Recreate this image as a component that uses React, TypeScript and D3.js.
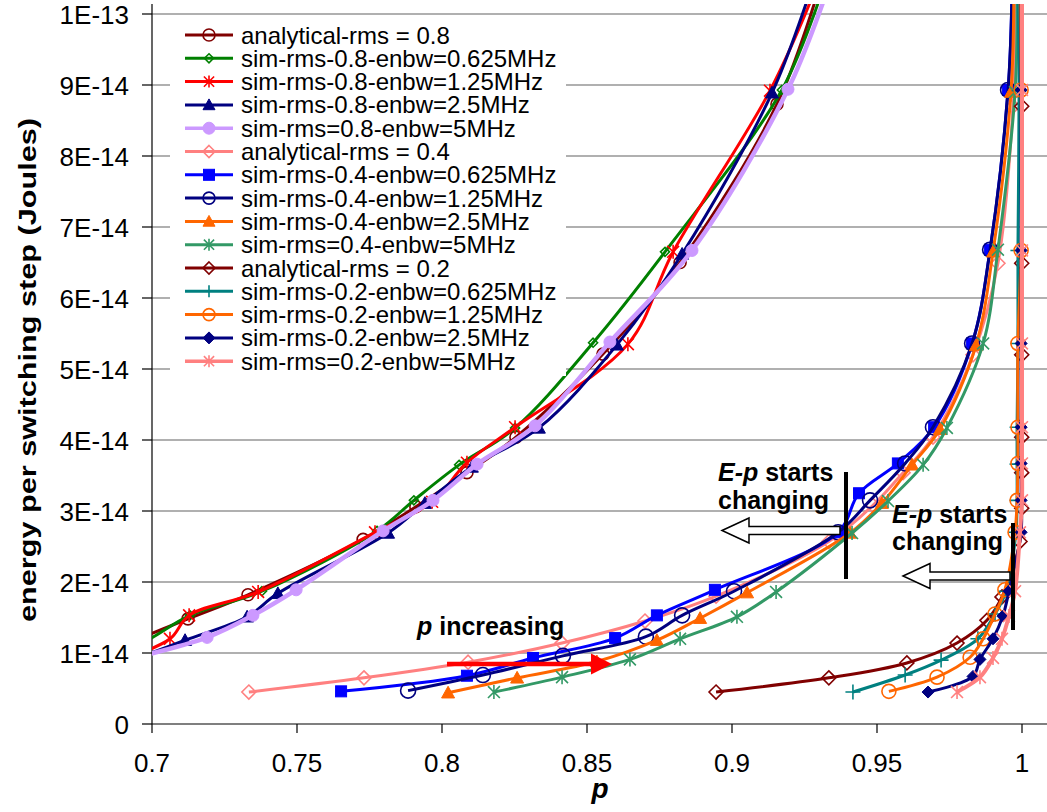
import React from "react";
import * as d3 from "d3";

// ---------- data (p, energy in units of 1E-14 J) ----------
const seriesNames = [
  "analytical-rms = 0.8",
  "sim-rms-0.8-enbw=0.625MHz",
  "sim-rms-0.8-enbw=1.25MHz",
  "sim-rms-0.8-enbw=2.5MHz",
  "sim-rms=0.8-enbw=5MHz",
  "analytical-rms = 0.4",
  "sim-rms-0.4-enbw=0.625MHz",
  "sim-rms-0.4-enbw=1.25MHz",
  "sim-rms-0.4-enbw=2.5MHz",
  "sim-rms=0.4-enbw=5MHz",
  "analytical-rms = 0.2",
  "sim-rms-0.2-enbw=0.625MHz",
  "sim-rms-0.2-enbw=1.25MHz",
  "sim-rms-0.2-enbw=2.5MHz",
  "sim-rms=0.2-enbw=5MHz",
];

const pA08 = [0.6917, 0.7124, 0.7331, 0.7728, 0.791, 0.8086, 0.8255, 0.8555, 0.8821, 0.9155, 0.9303];
const eA08 = [1.14, 1.48, 1.82, 2.6, 3.06, 3.54, 4.04, 5.21, 6.5, 8.73, 10.4];

const pS08a = [0.689, 0.6993, 0.7131, 0.7379, 0.7776, 0.7903, 0.8059, 0.8252, 0.8521, 0.8769, 0.9172, 0.9317];
const eS08a = [1.0, 1.2, 1.53, 1.87, 2.72, 3.15, 3.65, 4.17, 5.37, 6.65, 8.93, 10.4];

const pS08b = [0.6907, 0.7062, 0.7128, 0.7366, 0.7769, 0.7966, 0.8086, 0.8252, 0.8641, 0.8797, 0.9131, 0.9293];
const eS08b = [0.92, 1.2, 1.53, 1.86, 2.7, 3.13, 3.68, 4.18, 5.35, 6.65, 8.92, 10.4];

const pS08c = [0.6945, 0.7114, 0.7328, 0.7434, 0.7814, 0.7941, 0.8103, 0.8334, 0.8603, 0.8828, 0.9138, 0.9276];
const eS08c = [0.92, 1.18, 1.51, 1.84, 2.69, 3.11, 3.62, 4.17, 5.34, 6.62, 8.89, 10.4];

const pS08d = [0.6924, 0.719, 0.7348, 0.7497, 0.7797, 0.7969, 0.8121, 0.8321, 0.8579, 0.8862, 0.9193, 0.9334];
const eS08d = [0.92, 1.22, 1.53, 1.89, 2.72, 3.15, 3.66, 4.2, 5.38, 6.67, 8.94, 10.4];

const pA04 = [0.7334, 0.7731, 0.809, 0.8414, 0.87, 0.8945, 0.9334, 0.9486, 0.959, 0.9693, 0.9831, 0.9917, 0.9969, 0.9979];
const eA04 = [0.45, 0.65, 0.87, 1.14, 1.45, 1.8, 2.57, 3.08, 3.54, 4.04, 5.2, 6.49, 8.7, 10.4];

const pS04a = [0.7652, 0.8086, 0.8314, 0.8597, 0.8741, 0.8941, 0.9366, 0.9438, 0.9572, 0.9697, 0.9828, 0.989, 0.9952, 0.9966];
const eS04a = [0.46, 0.68, 0.93, 1.21, 1.53, 1.89, 2.7, 3.25, 3.67, 4.18, 5.36, 6.68, 8.93, 10.4];

const pS04b = [0.7883, 0.8141, 0.8417, 0.8703, 0.8828, 0.9007, 0.9366, 0.9476, 0.9597, 0.9693, 0.9828, 0.989, 0.9952, 0.9966];
const eS04b = [0.47, 0.69, 0.96, 1.23, 1.53, 1.87, 2.7, 3.15, 3.67, 4.18, 5.36, 6.68, 8.93, 10.4];

const pS04c = [0.8021, 0.8259, 0.8534, 0.8741, 0.889, 0.9052, 0.9407, 0.9517, 0.9621, 0.9717, 0.9841, 0.99, 0.9962, 0.9972];
const eS04c = [0.44, 0.65, 0.88, 1.18, 1.49, 1.85, 2.69, 3.11, 3.65, 4.15, 5.33, 6.65, 8.9, 10.4];

const pS04d = [0.8179, 0.8414, 0.8648, 0.8821, 0.9017, 0.9152, 0.9414, 0.9538, 0.9659, 0.9741, 0.9866, 0.9917, 0.9976, 0.9983];
const eS04d = [0.45, 0.66, 0.91, 1.2, 1.51, 1.86, 2.69, 3.14, 3.65, 4.17, 5.36, 6.68, 8.9, 10.4];

const pA02 = [0.8945, 0.9334, 0.9603, 0.9776, 0.9879, 0.9931, 0.9993, 0.9999, 0.9999, 0.9999, 0.9999, 0.9999, 0.9999, 0.9999];
const eA02 = [0.45, 0.65, 0.86, 1.14, 1.46, 1.79, 2.57, 3.04, 3.54, 4.04, 5.2, 6.49, 8.7, 10.4];

const pS02a = [0.9417, 0.9597, 0.9721, 0.9848, 0.9907, 0.9945, 0.9979, 0.9983, 0.9983, 0.9983, 0.9986, 0.9986, 0.999, 0.9986];
const eS02a = [0.45, 0.69, 0.9, 1.2, 1.55, 1.87, 2.7, 3.15, 3.66, 4.18, 5.36, 6.67, 8.92, 10.4];

const pS02b = [0.9541, 0.9707, 0.9821, 0.9866, 0.9907, 0.9941, 0.9976, 0.9983, 0.9986, 0.9986, 0.9986, 0.9997, 0.9997, 0.9993];
const eS02b = [0.46, 0.66, 0.94, 1.2, 1.55, 1.89, 2.7, 3.15, 3.67, 4.18, 5.36, 6.67, 8.93, 10.4];

const pS02c = [0.9676, 0.9831, 0.9855, 0.99, 0.9934, 0.9955, 0.9997, 0.9997, 0.9997, 0.9997, 0.9997, 0.9997, 0.9997, 0.9997];
const eS02c = [0.45, 0.67, 0.91, 1.2, 1.52, 1.87, 2.7, 3.15, 3.67, 4.18, 5.36, 6.67, 8.93, 10.4];

const pS02d = [0.9776, 0.9855, 0.99, 0.9931, 0.9955, 0.9976, 0.9993, 1.0, 1.0, 1.0, 1.0, 1.0, 1.0, 1.0];
const eS02d = [0.45, 0.66, 0.93, 1.2, 1.52, 1.87, 2.7, 3.15, 3.67, 4.18, 5.36, 6.67, 8.93, 10.4];

const xTicks = [0.7, 0.75, 0.8, 0.85, 0.9, 0.95, 1.0];
const xTickLabels = ["0.7", "0.75", "0.8", "0.85", "0.9", "0.95", "1"];
const yTicks = [0, 1, 2, 3, 4, 5, 6, 7, 8, 9, 10];
const yTickLabels = ["0", "1E-14", "2E-14", "3E-14", "4E-14", "5E-14", "6E-14", "7E-14", "8E-14", "9E-14", "1E-13"];

// ---------- styles ----------
type MType = "circleOpen" | "circleFill" | "diamondOpen" | "diamondFill" | "square" | "triangle" | "star" | "plus";
const styles: { color: string; marker: MType; size: number; width: number }[] = [
  { color: "#800000", marker: "circleOpen", size: 6, width: 3 },
  { color: "#008000", marker: "diamondOpen", size: 4.5, width: 3 },
  { color: "#FF0000", marker: "star", size: 7, width: 3 },
  { color: "#000080", marker: "triangle", size: 6.5, width: 3 },
  { color: "#CC99FF", marker: "circleFill", size: 6, width: 4.5 },
  { color: "#FF8080", marker: "diamondOpen", size: 7, width: 3 },
  { color: "#0000FF", marker: "square", size: 5.5, width: 3 },
  { color: "#000080", marker: "circleOpen", size: 7.5, width: 3 },
  { color: "#FF6600", marker: "triangle", size: 6.5, width: 3 },
  { color: "#339966", marker: "star", size: 7, width: 3 },
  { color: "#800000", marker: "diamondOpen", size: 7, width: 3 },
  { color: "#008080", marker: "plus", size: 7.5, width: 3 },
  { color: "#FF6600", marker: "circleOpen", size: 7, width: 3 },
  { color: "#000080", marker: "diamondFill", size: 6, width: 3 },
  { color: "#FF8080", marker: "star", size: 7, width: 4 },
];

const seriesP = [pA08, pS08a, pS08b, pS08c, pS08d, pA04, pS04a, pS04b, pS04c, pS04d, pA02, pS02a, pS02b, pS02c, pS02d];
const seriesE = [eA08, eS08a, eS08b, eS08c, eS08d, eA04, eS04a, eS04b, eS04c, eS04d, eA02, eS02a, eS02b, eS02c, eS02d];

const FONT = "'Liberation Sans', Arial, Helvetica, sans-serif";

function Marker({ type, s, color, x, y }: { type: MType; s: number; color: string; x: number; y: number }) {
  const sw = 1.6;
  switch (type) {
    case "circleOpen":
      return <circle cx={x} cy={y} r={s} fill="none" stroke={color} strokeWidth={sw} />;
    case "circleFill":
      return <circle cx={x} cy={y} r={s} fill={color} stroke={color} strokeWidth={1} />;
    case "diamondOpen":
      return <path d={`M${x},${y - s}L${x + s},${y}L${x},${y + s}L${x - s},${y}Z`} fill="none" stroke={color} strokeWidth={sw} />;
    case "diamondFill":
      return <path d={`M${x},${y - s}L${x + s},${y}L${x},${y + s}L${x - s},${y}Z`} fill={color} stroke={color} strokeWidth={1} />;
    case "square":
      return <rect x={x - s} y={y - s} width={2 * s} height={2 * s} fill={color} stroke={color} strokeWidth={1} />;
    case "triangle":
      return <path d={`M${x},${y - s}L${x + s},${y + s * 0.8}L${x - s},${y + s * 0.8}Z`} fill={color} stroke={color} strokeWidth={1} />;
    case "star": {
      const k = s * 0.85;
      return (
        <path
          d={`M${x},${y - s}V${y + s}M${x - k},${y - k}L${x + k},${y + k}M${x + k},${y - k}L${x - k},${y + k}`}
          fill="none"
          stroke={color}
          strokeWidth={sw}
        />
      );
    }
    case "plus":
      return <path d={`M${x - s},${y}H${x + s}M${x},${y - s}V${y + s}`} fill="none" stroke={color} strokeWidth={sw} />;
  }
  return null;
}

function HollowArrow({ tip, tail, cy }: { tip: number; tail: number; cy: number }) {
  const hl = 27, hh = 12.5, sh = 4;
  const d = `M${tip},${cy}L${tip + hl},${cy - hh}L${tip + hl},${cy - sh}L${tail},${cy - sh}L${tail},${cy + sh}L${tip + hl},${cy + sh}L${tip + hl},${cy + hh}Z`;
  return <path d={d} fill="#fff" stroke="#000" strokeWidth={1.5} />;
}

export default function App() {
  const x = d3.scaleLinear().domain([0.7, 1.0]).range([152, 1022]);
  const y = d3.scaleLinear().domain([0, 10]).range([724, 14]);
  const line = d3
    .line<[number, number]>()
    .x((d) => x(d[0]))
    .y((d) => y(d[1]))
    .curve(d3.curveCatmullRom.alpha(0.5));

  const plotL = 152, plotR = 1047, plotT = 4, plotB = 724;

  const legendX = 185, legendY0 = 35, legendDy = 23.3;

  return (
    <div style={{ position: "absolute", left: 0, top: 0, width: 1047, height: 812, background: "#fff" }}>
      <svg width={1047} height={812} style={{ display: "block" }} fontFamily={FONT}>
        <defs>
          <clipPath id="plotClip">
            <rect x={plotL} y={plotT} width={plotR - plotL + 20} height={plotB - plotT} />
          </clipPath>
        </defs>
        <rect x={0} y={0} width={1047} height={812} fill="#fff" />

        {/* grid */}
        {yTicks.slice(1).map((t) => (
          <line key={t} x1={plotL} x2={plotR + 10} y1={y(t)} y2={y(t)} stroke="#969696" strokeWidth={1.5} />
        ))}

        {/* axes */}
        <line x1={plotL} x2={plotL} y1={plotT} y2={plotB} stroke="#000" strokeWidth={1.2} />
        <line x1={plotL} x2={plotR + 10} y1={plotB} y2={plotB} stroke="#000" strokeWidth={1.2} />
        {yTicks.map((t, i) => (
          <g key={t}>
            <line x1={plotL - 10} x2={plotL} y1={y(t)} y2={y(t)} stroke="#000" strokeWidth={1.2} />
            <text x={129} y={y(t) + 9.5} textAnchor="end" fontSize={26} fill="#000">
              {yTickLabels[i]}
            </text>
          </g>
        ))}
        {xTicks.map((t, i) => (
          <g key={t}>
            <line x1={x(t)} x2={x(t)} y1={plotB} y2={plotB + 9} stroke="#000" strokeWidth={1.2} />
            <text x={x(t)} y={772} textAnchor="middle" fontSize={26} fill="#000">
              {xTickLabels[i]}
            </text>
          </g>
        ))}

        {/* axis titles */}
        <text
          transform={`translate(36,370) rotate(-90)`}
          textAnchor="middle"
          fontSize={24}
          fontWeight="bold"
          textLength={504}
          lengthAdjust="spacingAndGlyphs"
          fill="#000"
        >
          energy per switching step (Joules)
        </text>
        <text x={600} y={798} textAnchor="middle" fontSize={28} fontWeight="bold" fontStyle="italic" fill="#000">
          p
        </text>

        {/* series */}
        <g clipPath="url(#plotClip)">
          {seriesP.map((ps, si) => {
            const st = styles[si];
            const pts: [number, number][] = ps.map((p, i) => [p, seriesE[si][i]]);
            return (
              <g key={si}>
                <path d={line(pts) || ""} fill="none" stroke={st.color} strokeWidth={st.width} strokeLinejoin="round" />
                {pts
                  .filter((d) => d[0] >= 0.7 && d[1] <= 10.1)
                  .map((d, i) => (
                    <Marker key={i} type={st.marker} s={st.size} color={st.color} x={x(d[0])} y={y(d[1])} />
                  ))}
              </g>
            );
          })}
        </g>

        {/* legend */}
        <rect x={170} y={20} width={396} height={356} fill="#fff" />
        {seriesNames.map((n, i) => {
          const st = styles[i];
          const cy = legendY0 + i * legendDy;
          return (
            <g key={n}>
              <line x1={legendX} x2={legendX + 48} y1={cy} y2={cy} stroke={st.color} strokeWidth={Math.min(st.width, 3.5)} />
              <Marker type={st.marker} s={Math.min(st.size, 6)} color={st.color} x={legendX + 24} y={cy} />
              <text x={241} y={cy + 8.5} fontSize={24} fill="#000">
                {n}
              </text>
            </g>
          );
        })}

        {/* annotations */}
        <line x1={x(0.93931)} x2={x(0.93931)} y1={y(3.549)} y2={y(2.042)} stroke="#000" strokeWidth={4} />
        <HollowArrow tip={x(0.89655)} tail={x(0.93724)} cy={y(2.725)} />
        <text x={x(0.89517)} y={y(3.4225)} fontSize={25} fontWeight="bold" fill="#000">
          <tspan fontStyle="italic">E-p</tspan> starts
        </text>
        <text x={x(0.89517)} y={y(3.028)} fontSize={25} fontWeight="bold" fill="#000">
          changing
        </text>

        <line x1={x(0.9969)} x2={x(0.9969)} y1={y(2.831)} y2={y(1.324)} stroke="#000" strokeWidth={4} />
        <HollowArrow tip={x(0.95897)} tail={x(0.99586)} cy={y(2.0845)} />
        <text x={x(0.95517)} y={y(2.831)} fontSize={25} fontWeight="bold" fill="#000">
          <tspan fontStyle="italic">E-p</tspan> starts
        </text>
        <text x={x(0.95517)} y={y(2.451)} fontSize={25} fontWeight="bold" fill="#000">
          changing
        </text>

        <text x={x(0.79138)} y={y(1.2535)} fontSize={25} fontWeight="bold" fill="#000">
          <tspan fontStyle="italic">p</tspan> increasing
        </text>
        <line x1={x(0.80172)} x2={x(0.8525)} y1={y(0.845)} y2={y(0.845)} stroke="#FF0000" strokeWidth={4.5} />
        <path
          d={`M${x(0.85862)},${y(0.845)}L${x(0.85862) - 21},${y(0.845) - 10.5}L${x(0.85862) - 21},${y(0.845) + 10.5}Z`}
          fill="#FF0000"
        />
      </svg>
    </div>
  );
}
